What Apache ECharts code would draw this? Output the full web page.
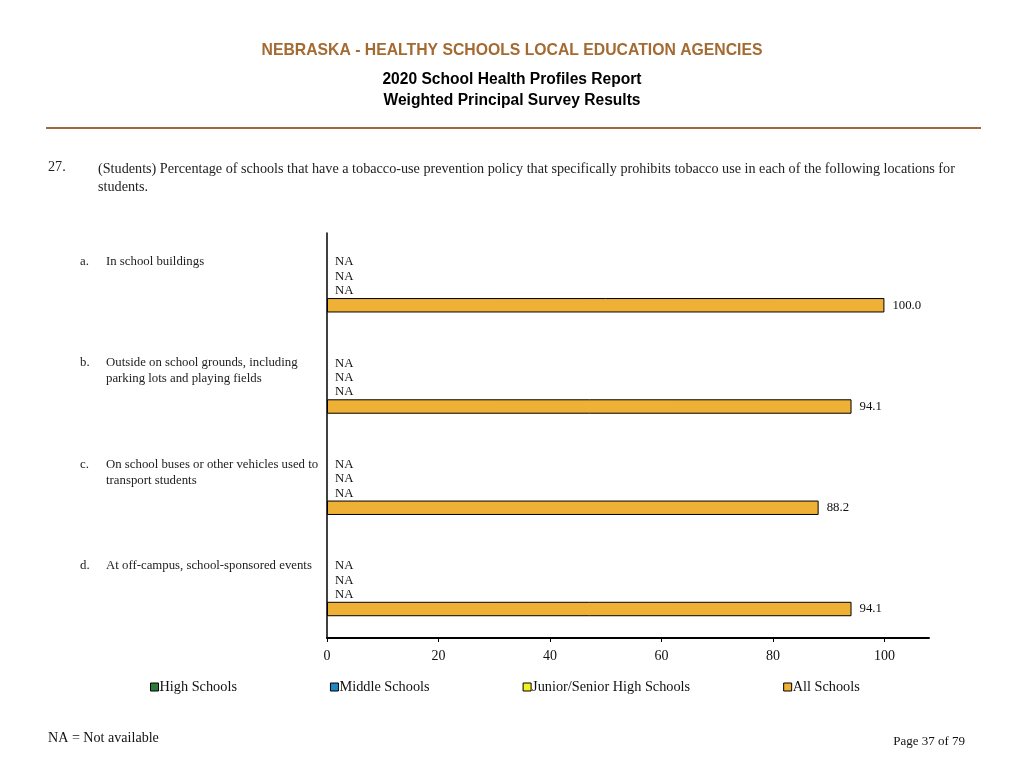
<!DOCTYPE html>
<html>
<head>
<meta charset="utf-8">
<script src="https://cdn.jsdelivr.net/npm/echarts@6/dist/echarts.min.js"></script>
<style>
html,body{margin:0;padding:0;background:#fff;}
#chart{width:1024px;height:768px;}
</style>
</head>
<body>
<div id="chart"></div>
<script>
// ---- data ----
var itemLetters = ['a.', 'b.', 'c.', 'd.'];
var categories = [
  'In school buildings',
  'Outside on school grounds, including\nparking lots and playing fields',
  'On school buses or other vehicles used to\ntransport students',
  'At off-campus, school-sponsored events'
];
var seriesNames = ['High Schools', 'Middle Schools', 'Junior/Senior High Schools', 'All Schools'];
var highSchools = [null, null, null, null];
var middleSchools = [null, null, null, null];
var juniorSeniorHighSchools = [null, null, null, null];
var allSchools = [100.0, 94.1, 88.2, 94.1];
var seriesColors = ['#2a7a3b', '#1d87c4', '#f5f020', '#efb135'];
var xTicks = [0, 20, 40, 60, 80, 100];

var serif = "'Liberation Serif','Times New Roman',serif";
var sans = "'Liberation Sans',Arial,sans-serif";

var seriesValues = [highSchools, middleSchools, juniorSeniorHighSchools, allSchools];

var chart = echarts.init(document.getElementById('chart'));

var series = seriesNames.map(function (name, i) {
  var vals = seriesValues[i];
  return {
    name: name,
    type: 'bar',
    barGap: '0%',
    barCategoryGap: '43%',
    data: vals.map(function (v) {
      if (v === null) {
        return { value: 0, isNA: true, itemStyle: { borderWidth: 0 } };
      }
      return { value: v };
    }),
    itemStyle: { color: seriesColors[i], borderColor: '#000', borderWidth: 1 },
    label: {
      show: true,
      position: 'right',
      distance: 8,
      fontFamily: serif,
      fontSize: 12.8,
      color: '#111',
      formatter: function (p) {
        return p.data.isNA ? 'NA' : p.value.toFixed(1);
      }
    },
    emphasis: { disabled: true },
    animation: false
  };
});

var option = {
  animation: false,
  backgroundColor: '#fff',
  grid: { left: 327, right: 95, top: 233, bottom: 130, containLabel: false },
  legend: {
    data: seriesNames,
    left: 145,
    top: 675,
    itemWidth: 8,
    itemHeight: 8,
    itemGap: 93,
    icon: 'rect',
    itemStyle: { borderColor: '#000', borderWidth: 1 },
    textStyle: { fontFamily: serif, fontSize: 14.3, color: '#111', padding: [0, 0, 0, -4] },
    selectedMode: false
  },
  xAxis: {
    type: 'value',
    min: 0,
    max: 108,
    interval: 20,
    splitLine: { show: false },
    axisLine: { show: true, lineStyle: { color: '#000', width: 2 } },
    axisTick: { show: true, length: 4, customValues: xTicks, lineStyle: { color: '#000', width: 1 } },
    axisLabel: {
      customValues: xTicks,
      margin: 11,
      fontFamily: serif,
      fontSize: 14,
      color: '#111',
      formatter: function (v) { return v > 100 ? '' : String(v); }
    }
  },
  yAxis: {
    type: 'category',
    data: categories,
    inverse: true,
    axisLine: { show: true, lineStyle: { color: '#000', width: 1.5 } },
    axisTick: { show: false },
    axisLabel: { show: false },
    splitLine: { show: false }
  },
  series: series
};

chart.setOption(option);

// header and text elements
var graphics = [
  { type: 'text', left: 'center', top: 43, style: { text: 'NEBRASKA - HEALTHY SCHOOLS LOCAL EDUCATION AGENCIES', font: 'bold 15.75px ' + sans, fill: '#a36a32' } },
  { type: 'text', left: 'center', top: 72, style: { text: '2020 School Health Profiles Report', font: 'bold 15.6px ' + sans, fill: '#000' } },
  { type: 'text', left: 'center', top: 93, style: { text: 'Weighted Principal Survey Results', font: 'bold 15.6px ' + sans, fill: '#000' } },
  { type: 'rect', shape: { x: 46, y: 127, width: 935, height: 2 }, style: { fill: '#a0693a' } },
  { type: 'text', x: 48, y: 160, style: { text: '27.', font: '14.2px ' + serif, fill: '#222' } },
  { type: 'text', x: 98, y: 160, style: { text: '(Students) Percentage of schools that have a tobacco-use prevention policy that specifically prohibits tobacco use in each of the following locations for\nstudents.', font: '14.2px ' + serif, fill: '#222', lineHeight: 18 } },
  { type: 'text', x: 48, y: 731, style: { text: 'NA = Not available', font: '14.1px ' + serif, fill: '#111' } },
  { type: 'text', right: 59, top: 735, style: { text: 'Page 37 of 79', font: '13px ' + serif, fill: '#111' } }
];

categories.forEach(function (c, i) {
  var cy = chart.convertToPixel({ yAxisIndex: 0 }, i);
  var top = cy - 21.75 - 8;
  graphics.push({ type: 'text', x: 80, y: top, style: { text: itemLetters[i], font: '12.8px ' + serif, fill: '#222', lineHeight: 16 } });
  graphics.push({ type: 'text', x: 106, y: top, style: { text: c, font: '12.8px ' + serif, fill: '#222', lineHeight: 16 } });
});

chart.setOption({ graphic: graphics });
</script>
</body>
</html>
